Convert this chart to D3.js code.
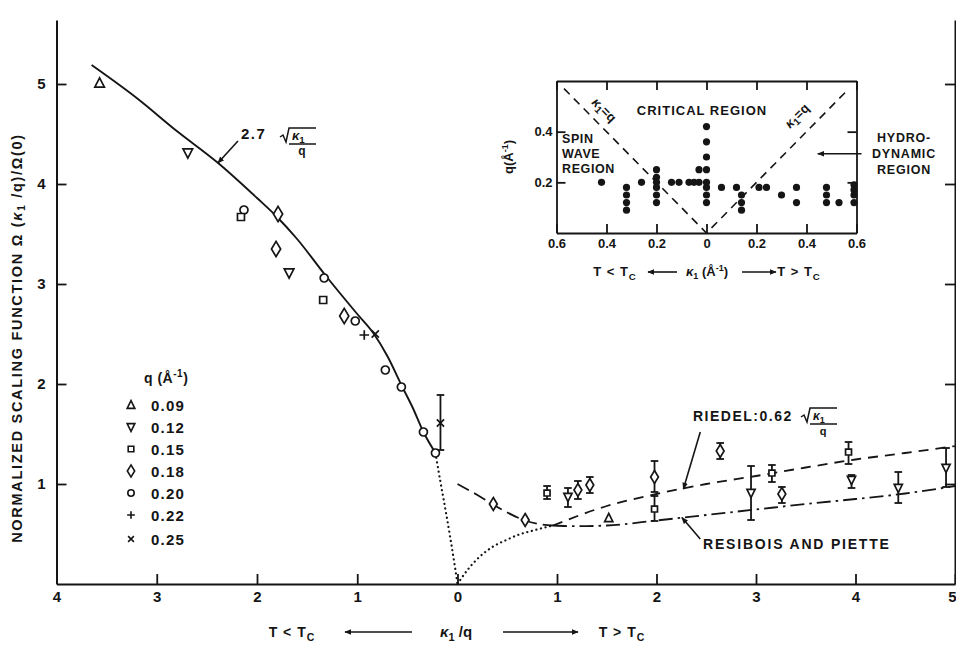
<!DOCTYPE html>
<html><head><meta charset="utf-8">
<script src="https://cdn.jsdelivr.net/npm/d3@7"></script>
<style>
body{margin:0;background:#fff}
svg{display:block}
text{font-family:"Liberation Sans",Arial,sans-serif;font-weight:700;fill:#151515}
</style></head><body>
<svg id="c" width="956" height="646"></svg>
<script>
// ---------------- DATA ----------------
const xTicks = [-4,-3,-2,-1,0,1,2,3,4,5];
const yTicks = [1,2,3,4,5];
const qLabels = ["0.09","0.12","0.15","0.18","0.20","0.22","0.25"];
const qValues = [0.09,0.12,0.15,0.18,0.20,0.22,0.25];
const qShapes = ["triUp","triDown","square","diamond","circle","plus","cross"];

// T < Tc points (kappa1/q signed negative)
const belowX = [-3.57,-2.69,-2.13,-2.16,-1.79,-1.81,-1.68,-1.33,-1.34,-1.13,-1.02,-0.93,-0.82,-0.72,-0.56,-0.34,-0.22,-0.17];
const belowY = [5.01,4.31,3.74,3.67,3.70,3.35,3.11,3.06,2.84,2.68,2.63,2.49,2.50,2.14,1.97,1.52,1.31,1.61];
const belowQ = [0.09,0.12,0.20,0.15,0.18,0.18,0.12,0.20,0.15,0.18,0.20,0.22,0.25,0.20,0.20,0.20,0.20,0.25];
const belowLo = [null,null,null,null,null,null,null,null,null,null,null,null,null,null,null,null,null,1.34];
const belowHi = [null,null,null,null,null,null,null,null,null,null,null,null,null,null,null,null,null,1.89];

// T > Tc points
const aboveX = [0.36,0.68,0.90,1.11,1.21,1.33,1.52,1.98,1.98,2.64,2.95,3.16,3.26,3.93,3.96,4.43,4.91];
const aboveY = [0.80,0.64,0.91,0.87,0.94,0.99,0.66,1.07,0.75,1.33,0.91,1.11,0.90,1.32,1.04,0.96,1.16];
const aboveQ = [0.18,0.18,0.15,0.12,0.18,0.18,0.09,0.18,0.15,0.18,0.12,0.15,0.18,0.15,0.12,0.12,0.12];
const aboveLo = [null,null,0.85,0.77,0.85,0.91,null,0.92,0.63,1.25,0.64,1.02,0.81,1.20,0.96,0.81,0.97];
const aboveHi = [null,null,0.98,0.96,1.03,1.07,null,1.23,0.88,1.41,1.18,1.19,0.97,1.42,1.09,1.12,1.36];

// curves
const fitX = [-3.65,-3.2,-2.8,-2.4,-2.0,-1.8,-1.6,-1.32,-1.0,-0.84,-0.7,-0.55,-0.45,-0.34,-0.22];
const fitY = [5.19,4.86,4.53,4.22,3.86,3.67,3.45,3.09,2.70,2.51,2.28,1.97,1.77,1.52,1.31];
const dotLX = [-0.22,-0.17,-0.114,-0.07,-0.03,0];
const dotLY = [1.31,1.02,0.71,0.45,0.20,0];
const dotRX = [0,0.10,0.22,0.35,0.49,0.62,0.76,0.96];
const dotRY = [0,0.14,0.27,0.37,0.44,0.495,0.535,0.585];
const dashX = [0.0,0.2,0.35,0.5,0.68,0.82,0.96];
const dashY = [1.0,0.89,0.80,0.715,0.635,0.60,0.585];
const riedelX = [0.96,1.5,2.0,2.5,3.0,3.5,4.0,4.5,5.0];
const riedelY = [0.585,0.78,0.90,1.0,1.08,1.165,1.245,1.31,1.38];
const resX = [0.96,1.2,1.5,2.0,2.5,3.0,3.5,4.0,4.5,5.0];
const resY = [0.585,0.578,0.585,0.635,0.69,0.745,0.80,0.85,0.905,0.98];

// inset
const insetXTicks = [-0.6,-0.4,-0.2,0,0.2,0.4,0.6];
const insetYTicks = [0.2,0.4];
const insetK = [-0.42,-0.32,-0.32,-0.32,-0.32,-0.26,-0.20,-0.20,-0.20,-0.20,-0.20,-0.20,-0.14,-0.11,-0.07,-0.05,-0.03,-0.03,0,0,0,0,0,0,0,0,0.06,0.12,0.14,0.14,0.14,0.21,0.24,0.30,0.36,0.36,0.48,0.48,0.48,0.53,0.59,0.59,0.59,0.59];
const insetQ = [0.20,0.18,0.15,0.12,0.09,0.20,0.25,0.22,0.20,0.18,0.15,0.12,0.20,0.20,0.20,0.20,0.20,0.25,0.42,0.36,0.30,0.25,0.20,0.18,0.15,0.12,0.18,0.18,0.15,0.12,0.09,0.18,0.18,0.15,0.18,0.12,0.18,0.15,0.12,0.12,0.19,0.17,0.15,0.12];
const kapLineK = [-0.57,0,0.57];
const kapLineQ = [0.57,0,0.57];

// ---------------- DRAW ----------------
const ink = "#151515";
const svg = d3.select("#c");
const x = d3.scaleLinear().domain([-4,0,5]).range([56.5,457.5,955]);
const y = d3.scaleLinear().domain([0,5.64]).range([584,20]);

function styleAxis(g, fs){
  g.attr("font-family",null).attr("font-size",null);
  g.select(".domain").attr("stroke",ink).attr("stroke-width",2);
  g.selectAll(".tick line").attr("stroke",ink).attr("stroke-width",1.8);
  g.selectAll(".tick text").attr("font-size",fs).attr("fill",ink);
}
svg.append("g").attr("transform",`translate(0,${y(0)})`)
  .call(d3.axisBottom(x).tickValues(xTicks).tickSizeInner(-10).tickSizeOuter(0).tickPadding(7).tickFormat(d=>Math.abs(d)))
  .call(g=>styleAxis(g,15))
  .call(g=>g.selectAll(".tick text").filter(d=>d===5).attr("text-anchor","end").attr("dx",1));
svg.append("g").attr("transform",`translate(${x(-4)},0)`)
  .call(d3.axisLeft(y).tickValues(yTicks).tickSizeInner(-10).tickSizeOuter(0).tickPadding(11).tickFormat(d3.format("d")))
  .call(g=>styleAxis(g,15));
svg.append("g").attr("transform",`translate(${x(5)},0)`)
  .call(d3.axisRight(y).tickValues(yTicks).tickSizeInner(-10).tickSizeOuter(0).tickFormat(""))
  .call(g=>styleAxis(g,15));

// arrow marker
const defs = svg.append("defs");
defs.append("marker").attr("id","ah").attr("viewBox","0 0 10 10").attr("refX",9).attr("refY",5)
  .attr("markerWidth",7).attr("markerHeight",7).attr("markerUnits","userSpaceOnUse").attr("orient","auto")
  .append("path").attr("d","M0,1L10,5L0,9Z").attr("fill",ink);

// curves
const line = d3.line().x(d=>x(d[0])).y(d=>y(d[1])).curve(d3.curveMonotoneX);
function curve(xs, ys, dash, w){
  svg.append("path").datum(d3.zip(xs,ys)).attr("d",line).attr("fill","none")
    .attr("stroke",ink).attr("stroke-width",w).attr("stroke-dasharray",dash)
    .attr("stroke-linecap",dash && dash.startsWith("0.1")?"round":"butt");
}
curve(fitX,fitY,null,1.9);
curve(dotLX,dotLY,"0.1,4.6",2.2);
curve(dotRX,dotRY,"0.1,4.6",2.2);
curve(dashX,dashY,"13,6",1.8);
curve(riedelX,riedelY,"10,7",1.8);
curve(resX,resY,"14,5,2.5,5",1.8);

// symbols
function symbolPath(type,k){
  switch(type){
    case "triUp": {const w=4.8*k,h=4.2*k; return `M0,${-h-1}L${w},${h}L${-w},${h}Z`;}
    case "triDown": {const w=4.8*k,h=4.2*k; return `M${-w},${-h}L${w},${-h}L0,${h+1}Z`;}
    case "square": {const r=3.5*k; return `M${-r},${-r}h${2*r}v${2*r}h${-2*r}Z`;}
    case "diamond": {const w=4.6*k,h=7.6*k; return `M0,${-h}L${w},0L0,${h}L${-w},0Z`;}
    case "circle": {const r=4*k; return `M${r},0A${r},${r} 0 1,1 ${-r},0A${r},${r} 0 1,1 ${r},0Z`;}
    case "plus": {const a=4.8*k; return `M${-a},0H${a}M0,${-a}V${a}`;}
    case "cross": {const a=3.6*k; return `M${-a},${-a}L${a},${a}M${-a},${a}L${a},${-a}`;}
  }
}
const shapeFor = q => qShapes[qValues.indexOf(q)];

function points(xs,ys,qs,lo,hi,k){
  const idx = d3.range(xs.length);
  const g = svg.append("g");
  g.selectAll("g.eb").data(idx.filter(i=>lo[i]!=null)).join("g").attr("class","eb")
    .each(function(i){
      const e = d3.select(this), cx = x(xs[i]);
      e.append("line").attr("x1",cx).attr("x2",cx).attr("y1",y(lo[i])).attr("y2",y(hi[i]));
      e.append("line").attr("x1",cx-3.8).attr("x2",cx+3.8).attr("y1",y(lo[i])).attr("y2",y(lo[i]));
      e.append("line").attr("x1",cx-3.8).attr("x2",cx+3.8).attr("y1",y(hi[i])).attr("y2",y(hi[i]));
    }).selectAll("line").attr("stroke",ink).attr("stroke-width",1.8);
  g.selectAll("path").data(idx).join("path")
    .attr("transform",i=>`translate(${x(xs[i])},${y(ys[i])})`)
    .attr("d",i=>symbolPath(shapeFor(qs[i]),k))
    .attr("fill",i=>["plus","cross"].includes(shapeFor(qs[i]))?"none":"#fff")
    .attr("stroke",ink).attr("stroke-width",1.7);
}
points(belowX,belowY,belowQ,belowLo,belowHi,1);
points(aboveX,aboveY,aboveQ,aboveLo,aboveHi,0.85);

// legend
const lg = svg.append("g");
const lt = lg.append("text").attr("x",144).attr("y",383).attr("font-size",14).attr("letter-spacing",0.5);
lt.append("tspan").text("q (Å");
lt.append("tspan").attr("font-size",10).attr("dy",-6).text("-1");
lt.append("tspan").attr("dy",6).text(")");
qLabels.forEach((lab,i)=>{
  const cy = 405 + i*22 + (i===6?2:0);
  lg.append("path").attr("transform",`translate(131,${cy})`).attr("d",symbolPath(qShapes[i],0.8))
    .attr("fill",["plus","cross"].includes(qShapes[i])?"none":"#fff").attr("stroke",ink).attr("stroke-width",1.6);
  lg.append("text").attr("x",151).attr("y",cy+5.5).attr("font-size",15).attr("letter-spacing",1.2).text(lab);
});

// sqrt(kappa1/q) helper
function sqrtFrac(g, x0, yb, fs){
  g.append("path").attr("d",`M${x0},${yb-3}L${x0+3},${yb-5}L${x0+6},${yb+2}L${x0+9},${yb-12}H${x0+36}`)
    .attr("fill","none").attr("stroke",ink).attr("stroke-width",1.5);
  const t = g.append("text").attr("x",x0+12).attr("y",yb).attr("font-size",fs);
  t.append("tspan").attr("font-style","italic").text("κ");
  t.append("tspan").attr("font-size",fs*0.75).attr("dy",3).text("1");
  g.append("line").attr("x1",x0+9).attr("x2",x0+36).attr("y1",yb+4).attr("y2",yb+4).attr("stroke",ink).attr("stroke-width",1.5);
  g.append("text").attr("x",x0+22).attr("y",yb+15).attr("font-size",fs-1).attr("text-anchor","middle").text("q");
}
// annotations
const an = svg.append("g");
function leader(x1,y1,x2,y2){
  an.append("line").attr("x1",x(x1)).attr("y1",y(y1)).attr("x2",x(x2)).attr("y2",y(y2))
    .attr("stroke",ink).attr("stroke-width",1.6).attr("marker-end","url(#ah)");
}
an.append("text").attr("x",241).attr("y",139).attr("font-size",15).attr("letter-spacing",1.5).text("2.7");
sqrtFrac(an,280,140,13);
leader(-2.19,4.43,-2.39,4.21);
an.append("text").attr("x",693).attr("y",421).attr("font-size",14).attr("letter-spacing",1.5).text("RIEDEL:0.62");
sqrtFrac(an,801,420,12);
leader(2.44,1.52,2.27,0.95);
an.append("text").attr("x",703).attr("y",549).attr("font-size",14).attr("letter-spacing",1.8).text("RESIBOIS AND PIETTE");
leader(2.44,0.45,2.255,0.665);

// axis titles
const yt = svg.append("text").attr("transform","translate(22,338) rotate(-90)").attr("text-anchor","middle")
  .attr("font-size",14.5).attr("letter-spacing",1.7);
yt.append("tspan").text("NORMALIZED SCALING FUNCTION Ω (");
yt.append("tspan").attr("font-style","italic").text("κ");
yt.append("tspan").attr("font-size",10).attr("dy",3).text("1");
yt.append("tspan").attr("dy",-3).text(" /q)/Ω(0)");

function tcLabel(g, xc, yb, sym, fs){
  const t = g.append("text").attr("x",xc).attr("y",yb).attr("text-anchor","middle").attr("font-size",fs).attr("letter-spacing",1);
  t.append("tspan").text(`T ${sym} T`);
  t.append("tspan").attr("font-size",fs*0.75).attr("dy",4).text("C");
}
function arrowH(g, x1, x2, yy){
  g.append("line").attr("x1",x1).attr("x2",x2).attr("y1",yy).attr("y2",yy).attr("stroke",ink).attr("stroke-width",1.6).attr("marker-end","url(#ah)");
}
const xt = svg.append("g");
tcLabel(xt,292,637,"<",14);
arrowH(xt,412,345,632);
const kq = xt.append("text").attr("x",456).attr("y",637).attr("text-anchor","middle").attr("font-size",15);
kq.append("tspan").attr("font-style","italic").text("κ");
kq.append("tspan").attr("font-size",11).attr("dy",4).text("1");
kq.append("tspan").attr("dy",-4).text(" /q");
arrowH(xt,503,578,632);
tcLabel(xt,622,637,">",14);

// ---------------- INSET ----------------
const ix = d3.scaleLinear().domain([-0.6,0.6]).range([556.5,856.5]);
const iy = d3.scaleLinear().domain([0,0.6]).range([233,81]);
const ins = svg.append("g");
ins.append("g").attr("transform",`translate(0,${iy(0)})`)
  .call(d3.axisBottom(ix).tickValues(insetXTicks).tickSizeInner(-9).tickSizeOuter(0).tickPadding(6)
    .tickFormat(d=>d===0?"0":Math.abs(d).toFixed(1)))
  .call(g=>styleAxis(g,13));
ins.append("g").attr("transform",`translate(0,${iy(0.6)})`)
  .call(d3.axisTop(ix).tickValues(insetXTicks).tickSizeInner(-9).tickSizeOuter(0).tickFormat(""))
  .call(g=>styleAxis(g,13));
ins.append("g").attr("transform",`translate(${ix(-0.6)},0)`)
  .call(d3.axisLeft(iy).tickValues(insetYTicks).tickSizeInner(-9).tickSizeOuter(0).tickPadding(4).tickFormat(d=>d.toFixed(1)))
  .call(g=>styleAxis(g,13));
ins.append("g").attr("transform",`translate(${ix(0.6)},0)`)
  .call(d3.axisRight(iy).tickValues(insetYTicks).tickSizeInner(-9).tickSizeOuter(0).tickFormat(""))
  .call(g=>styleAxis(g,13));
ins.selectAll(".domain").attr("stroke-width",1.8);

const iline = d3.line().x(d=>ix(d[0])).y(d=>iy(d[1]));
ins.append("path").datum(d3.zip(kapLineK,kapLineQ)).attr("d",iline).attr("fill","none")
  .attr("stroke",ink).attr("stroke-width",1.6).attr("stroke-dasharray","8,6");
ins.selectAll("circle.d").data(d3.range(insetK.length)).join("circle").attr("class","d")
  .attr("cx",i=>ix(insetK[i])).attr("cy",i=>iy(insetQ[i])).attr("r",3.6).attr("fill",ink);

ins.append("text").attr("x",702).attr("y",115).attr("text-anchor","middle").attr("font-size",13).attr("letter-spacing",1).text("CRITICAL REGION");
["SPIN","WAVE","REGION"].forEach((s,i)=>ins.append("text").attr("x",562).attr("y",143+i*15).attr("font-size",12.5).attr("letter-spacing",0.6).text(s));
["HYDRO-","DYNAMIC","REGION"].forEach((s,i)=>ins.append("text").attr("x",904).attr("y",142+i*16).attr("text-anchor","middle").attr("font-size",12.5).attr("letter-spacing",0.8).text(s));
ins.append("line").attr("x1",ix(0.62)).attr("x2",ix(0.445)).attr("y1",iy(0.313)).attr("y2",iy(0.313))
  .attr("stroke",ink).attr("stroke-width",1.4).attr("marker-end","url(#ah)");
function kapEq(xc,yc,rot){
  const t = ins.append("text").attr("transform",`translate(${xc},${yc}) rotate(${rot})`).attr("text-anchor","middle").attr("font-size",13);
  t.append("tspan").attr("font-style","italic").text("κ");
  t.append("tspan").attr("font-size",10).attr("dy",3).text("1");
  t.append("tspan").attr("dy",-3).text("=q");
}
kapEq(601,113,45);
kapEq(800,119,-45);
const qy = ins.append("text").attr("transform","translate(513,157) rotate(-90)").attr("text-anchor","middle").attr("font-size",13);
qy.append("tspan").text("q(Å");
qy.append("tspan").attr("font-size",9).attr("dy",-5).text("-1");
qy.append("tspan").attr("dy",5).text(")");
const ib = ins.append("g");
tcLabel(ib,615,276,"<",13);
arrowH(ib,677,648,272);
const kk = ib.append("text").attr("x",707).attr("y",276).attr("text-anchor","middle").attr("font-size",13);
kk.append("tspan").attr("font-style","italic").text("κ");
kk.append("tspan").attr("font-size",9).attr("dy",3).text("1");
kk.append("tspan").attr("dy",-3).text(" (Å");
kk.append("tspan").attr("font-size",9).attr("dy",-5).text("-1");
kk.append("tspan").attr("dy",5).text(")");
arrowH(ib,742,776,272);
tcLabel(ib,799,276,">",13);
</script>
</body></html>
